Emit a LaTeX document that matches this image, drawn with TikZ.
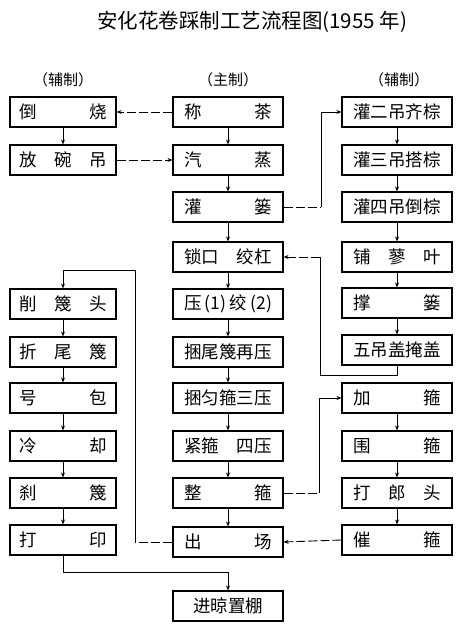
\documentclass[tikz,border=0pt]{standalone}
\usepackage{fontspec}
\newfontfamily\cjk{Noto Sans CJK SC}
\usetikzlibrary{arrows.meta}
\newcommand\fillw[1]{\makebox[88pt]{#1}}
\begin{document}
\begin{tikzpicture}[x=1pt,y=-1pt,
  box/.style={draw,line width=1.1pt,minimum height=30pt,inner sep=0pt,font=\cjk\fontsize{17.5}{17.5}\selectfont},
  lb/.style={box,minimum width=106pt},
  mb/.style={box,minimum width=110pt},
  hd/.style={font=\cjk\fontsize{15}{15}\selectfont},
  arr/.style={line width=0.9pt,-{Stealth[length=5pt,width=4pt]}},
  ln/.style={line width=0.9pt},
  dsh/.style={dash pattern=on 9pt off 3pt}]
\useasboundingbox (0,0) rectangle (460,628);
\node[font=\cjk\fontsize{20.5}{20.5}\selectfont] (title) at (252,22) {安化花卷踩制工艺流程图(1955 年)};
\node[hd] (H1) at (63,80) {（辅制）};
\node[hd] (H2) at (228,80) {（主制）};
\node[hd] (H3) at (399,80) {（辅制）};
% left column
\node[lb] (L1) at (63,112) {\fillw{倒\hfill 烧}};
\node[lb] (L2) at (63,160) {\fillw{放\hfill 碗\hfill 吊}};
\node[lb] (L3) at (63,304) {\fillw{削\hfill 篾\hfill 头}};
\node[lb] (L4) at (63,352) {\fillw{折\hfill 尾\hfill 篾}};
\node[lb] (L5) at (63,398) {\fillw{号\hfill 包}};
\node[lb] (L6) at (63,446) {\fillw{冷\hfill 却}};
\node[lb] (L7) at (63,493) {\fillw{刹\hfill 篾}};
\node[lb] (L8) at (63,540) {\fillw{打\hfill 印}};
% middle column
\node[mb] (M0) at (228,112) {\fillw{称\hfill 茶}};
\node[mb] (M1) at (228,160) {\fillw{汽\hfill 蒸}};
\node[mb] (M2) at (228,207) {\fillw{灌\hfill 篓}};
\node[mb] (M3) at (228,257) {\fillw{锁口\hfill 绞杠}};
\node[mb] (M4) at (228,304) {\fillw{压\hfill(1)\hfill 绞\hfill(2)}};
\node[mb] (M5) at (228,352) {\fillw{捆\hfill 尾\hfill 篾\hfill 再\hfill 压}};
\node[mb] (M6) at (228,398) {\fillw{捆\hfill 匀\hfill 箍\hfill 三\hfill 压}};
\node[mb] (M7) at (228,446) {\fillw{紧箍\hfill 四压}};
\node[mb] (M8) at (228,493) {\fillw{整\hfill 箍}};
\node[mb] (M9) at (228,542) {\fillw{出\hfill 场}};
\node[mb] (Mf) at (228,606) {进晾置棚};
% right column
\node[mb] (R0) at (397,112) {\fillw{灌\hfill 二\hfill 吊\hfill 齐\hfill 棕}};
\node[mb] (R1) at (397,160) {\fillw{灌\hfill 三\hfill 吊\hfill 搭\hfill 棕}};
\node[mb] (R2) at (397,207) {\fillw{灌\hfill 四\hfill 吊\hfill 倒\hfill 棕}};
\node[mb] (R3) at (397,257) {\fillw{铺\hfill 蓼\hfill 叶}};
\node[mb] (R4) at (397,303) {\fillw{撑\hfill 篓}};
\node[mb] (R5) at (397,350) {\fillw{五\hfill 吊\hfill 盖\hfill 掩\hfill 盖}};
\node[mb] (R6) at (397,398) {\fillw{加\hfill 箍}};
\node[mb] (R7) at (397,446) {\fillw{围\hfill 箍}};
\node[mb] (R8) at (397,493) {\fillw{打\hfill 郎\hfill 头}};
\node[mb] (R9) at (397,540) {\fillw{催\hfill 箍}};
% vertical chains
\foreach \a/\b in {L1/L2,L3/L4,L4/L5,L5/L6,L6/L7,L7/L8,
  M0/M1,M1/M2,M2/M3,M3/M4,M4/M5,M5/M6,M6/M7,M7/M8,M8/M9,
  R0/R1,R1/R2,R2/R3,R3/R4,R4/R5,R6/R7,R7/R8,R8/R9}
  \draw[arr] (\a.south) -- (\b.north);
% horizontal links
\draw[arr,dsh] (M0.west) -- (L1.east);
\draw[arr,dsh] (L2.east) -- (M1.west);
\coordinate (c1) at (321,207);
\draw[ln,dsh] (M2.east) -- (c1);
\draw[arr] (c1) |- (R0.west);
\coordinate (c2) at (397,375);
\coordinate (c3) at (320,257);
\draw[ln] (R5.south) -- (c2) -| (c3);
\draw[arr,dsh] (c3) -- (M3.east);
\coordinate (c4) at (319,493);
\draw[ln,dsh] (M8.east) -- (c4);
\draw[arr] (c4) |- (R6.west);
\draw[arr,dsh] (R9.west) -- (M9.east);
\coordinate (c5) at (135,542);
\coordinate (c6) at (135,270);
\draw[ln,dsh] (M9.west) -- (c5);
\draw[arr] (c5) -- (c6) -| (L3.north);
\coordinate (c7) at (63,572);
\draw[arr] (L8.south) -- (c7) -| (Mf.north);
\end{tikzpicture}
\end{document}
